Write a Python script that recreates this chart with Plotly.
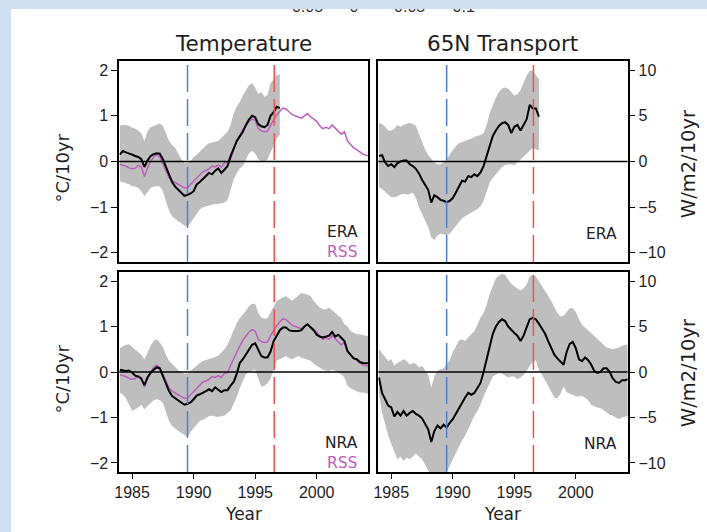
import numpy as np
import plotly.graph_objects as go

# ---------------------------------------------------------------------------
# Data: quarterly running trends, 1984.0 - 2004.25
# ---------------------------------------------------------------------------
YEARS = np.round(np.arange(1984.0, 2004.26, 0.25), 2)   # 82 quarterly steps
ERA_YEARS = YEARS[:53]                                  # ERA ends 1997.0

# Temperature trend (degC / 10yr)
ERA_TEMP = [0.15, 0.23, 0.20, 0.18, 0.15, 0.12, 0.10, 0.05,
            -0.12, 0.02, 0.12, 0.16, 0.18, 0.17, 0.05, -0.12,
            -0.30, -0.45, -0.55, -0.62, -0.70, -0.75, -0.73, -0.70,
            -0.65, -0.50, -0.45, -0.38, -0.30, -0.25, -0.28, -0.20,
            -0.15, -0.25, -0.18, -0.10, 0.10, 0.30, 0.45, 0.55,
            0.65, 0.80, 0.92, 1.00, 0.97, 0.82, 0.77, 0.75,
            0.80, 1.00, 1.08, 1.20, 1.17]
ERA_TEMP_HI = [0.78, 0.80, 0.80, 0.78, 0.74, 0.72, 0.68, 0.62,
               0.45, 0.66, 0.75, 0.78, 0.81, 0.83, 0.78, 0.63,
               0.45, 0.36, 0.30, 0.17, 0.05, -0.02, -0.03, 0.00,
               0.10, 0.15, 0.22, 0.27, 0.35, 0.40, 0.42, 0.43,
               0.45, 0.52, 0.58, 0.65, 0.80, 1.05, 1.20, 1.30,
               1.45, 1.55, 1.67, 1.72, 1.62, 1.48, 1.52, 1.42,
               1.45, 1.72, 1.80, 1.88, 1.91]
ERA_TEMP_LO = [-0.43, -0.45, -0.47, -0.50, -0.54, -0.55, -0.58, -0.65,
               -0.76, -0.66, -0.58, -0.55, -0.54, -0.55, -0.65, -0.87,
               -1.08, -1.20, -1.26, -1.31, -1.35, -1.40, -1.42, -1.35,
               -1.24, -1.13, -1.05, -1.00, -0.98, -0.97, -0.95, -0.93,
               -0.93, -0.91, -0.90, -0.85, -0.62, -0.40, -0.25, -0.15,
               -0.10, 0.05, 0.18, 0.23, 0.18, 0.05, 0.00, 0.00,
               0.05, 0.20, 0.37, 0.50, 0.59]

RSS_TEMP = [-0.06, -0.08, -0.10, -0.14, -0.16, -0.15, -0.08, -0.12,
            -0.33, -0.15, 0.00, 0.10, 0.15, 0.10, -0.05, -0.18,
            -0.35, -0.42, -0.47, -0.50, -0.54, -0.58, -0.57, -0.50,
            -0.43, -0.37, -0.30, -0.22, -0.20, -0.16, -0.10, -0.12,
            -0.08, -0.12, -0.03, -0.02, 0.15, 0.30, 0.45, 0.57,
            0.70, 0.80, 0.88, 0.93, 0.90, 0.72, 0.67, 0.65,
            0.66, 0.80, 0.92, 1.02, 1.10, 1.17, 1.15, 1.08,
            1.03, 1.00, 0.98, 0.95, 1.00, 1.05, 0.98, 0.92,
            0.88, 0.78, 0.72, 0.75, 0.72, 0.80, 0.72, 0.66,
            0.60, 0.65, 0.45, 0.37, 0.30, 0.26, 0.20, 0.16,
            0.14, 0.12]

NRA_TEMP = [0.05, 0.03, 0.02, 0.03, -0.01, -0.08, -0.10, -0.15,
            -0.29, -0.12, -0.02, 0.05, 0.10, 0.08, -0.08, -0.22,
            -0.42, -0.53, -0.58, -0.62, -0.66, -0.72, -0.70, -0.67,
            -0.60, -0.52, -0.49, -0.46, -0.42, -0.38, -0.42, -0.34,
            -0.40, -0.44, -0.40, -0.40, -0.30, -0.22, -0.04, 0.20,
            0.28, 0.38, 0.50, 0.60, 0.63, 0.50, 0.35, 0.32,
            0.32, 0.45, 0.68, 0.80, 0.92, 0.98, 0.98, 0.92,
            0.90, 0.90, 0.90, 0.92, 1.00, 1.05, 0.98, 0.92,
            0.82, 0.78, 0.76, 0.78, 0.80, 0.88, 0.78, 0.82,
            0.75, 0.68, 0.46, 0.38, 0.30, 0.28, 0.22, 0.20,
            0.19, 0.19]
NRA_TEMP_HI = [0.53, 0.57, 0.60, 0.61, 0.55, 0.50, 0.45, 0.38,
               0.28, 0.43, 0.57, 0.68, 0.72, 0.65, 0.55, 0.38,
               0.24, 0.18, 0.10, 0.04, 0.00, -0.04, -0.03, 0.03,
               0.08, 0.15, 0.20, 0.24, 0.26, 0.28, 0.30, 0.33,
               0.36, 0.42, 0.50, 0.60, 0.75, 0.92, 1.08, 1.18,
               1.26, 1.35, 1.45, 1.50, 1.50, 1.30, 1.20, 1.17,
               1.18, 1.30, 1.45, 1.56, 1.60, 1.63, 1.67, 1.62,
               1.57, 1.62, 1.68, 1.74, 1.72, 1.70, 1.67, 1.56,
               1.48, 1.42, 1.38, 1.38, 1.42, 1.36, 1.30, 1.25,
               1.18, 1.05, 1.00, 0.90, 0.86, 0.83, 0.83, 0.82,
               0.80, 0.78]
NRA_TEMP_LO = [-0.45, -0.50, -0.58, -0.70, -0.85, -0.82, -0.78, -0.72,
               -0.82, -0.75, -0.68, -0.62, -0.60, -0.62, -0.68, -0.90,
               -1.08, -1.19, -1.25, -1.30, -1.34, -1.38, -1.44, -1.32,
               -1.24, -1.15, -1.08, -1.05, -1.02, -0.97, -0.96, -0.98,
               -0.99, -0.97, -0.96, -0.90, -0.85, -0.70, -0.55, -0.35,
               -0.18, -0.05, 0.00, 0.03, 0.05, -0.15, -0.32, -0.30,
               -0.25, -0.15, 0.05, 0.25, 0.28, 0.32, 0.35, 0.30,
               0.28, 0.32, 0.35, 0.32, 0.30, 0.28, 0.25, 0.18,
               0.13, 0.08, 0.05, 0.03, 0.02, 0.05, 0.03, -0.02,
               -0.05, -0.12, -0.30, -0.36, -0.40, -0.43, -0.45, -0.45,
               -0.47, -0.48]

# 65N energy transport trend (W/m2 / 10yr)
ERA_TRANS = [0.6, 0.7, -0.1, -0.5, -0.3, -0.6, -0.2, 0.0,
             0.1, 0.1, -0.3, -0.5, -0.8, -1.3, -2.0, -2.5,
             -3.1, -4.5, -3.7, -3.9, -4.2, -4.3, -4.45, -4.3,
             -4.0, -3.4, -2.8, -2.1, -2.2, -1.6, -1.7, -1.4,
             -1.6, -1.2, -0.5, 0.6, 1.8, 2.8, 3.4, 3.9,
             4.2, 4.3, 4.0, 3.1, 3.8, 4.0, 3.4, 4.0,
             4.6, 6.2, 5.8, 5.8, 4.9]
ERA_TRANS_HI = [4.2, 4.1, 3.8, 3.4, 3.4, 3.6, 4.0, 3.8,
                4.0, 4.1, 4.25, 4.1, 3.9, 3.0, 2.1, 1.3,
                0.7, 0.3, -0.1, -0.3, -0.3, -0.1, 0.2, 0.8,
                1.3, 1.7, 2.0, 2.1, 2.25, 2.4, 2.5, 2.7,
                2.8, 2.9, 3.1, 4.0, 5.3, 6.2, 7.0, 7.6,
                8.0, 8.1, 8.0, 7.6, 7.2, 7.4, 7.8, 8.6,
                9.4, 9.9, 9.9, 9.5, 9.0]
ERA_TRANS_LO = [-2.8, -3.0, -3.3, -3.6, -3.9, -3.9, -3.8, -3.6,
                -3.55, -3.6, -3.55, -3.4, -4.0, -5.0, -5.8, -6.4,
                -7.2, -8.3, -8.6, -8.1, -7.9, -8.0, -8.1, -7.9,
                -7.5, -7.1, -6.6, -6.2, -6.0, -5.8, -5.6, -5.4,
                -5.2, -4.9, -4.3, -3.3, -2.3, -1.8, -1.4, -0.9,
                -0.6, -0.4, -0.3, -0.3, -0.4, -0.1, 0.2, 0.5,
                0.9, 1.2, 1.5, 1.3, 1.2]

NRA_TRANS = [-0.6, -2.3, -3.0, -3.7, -3.9, -4.9, -4.4, -4.8,
             -4.3, -4.8, -4.5, -4.3, -4.6, -4.8, -5.1, -5.7,
             -6.3, -7.7, -6.5, -5.9, -6.2, -5.8, -6.1, -5.6,
             -5.2, -4.6, -4.0, -3.3, -2.8, -2.3, -2.5, -2.3,
             -1.8, -1.2, 0.0, 1.3, 2.7, 4.2, 5.0, 5.5,
             5.8, 5.6, 5.0, 4.6, 4.3, 4.0, 3.4, 4.0,
             4.8, 5.8, 5.96, 5.8, 5.3, 4.8, 4.2, 3.4,
             2.6, 1.9, 1.5, 1.2, 0.8, 2.2, 3.1, 3.3,
             2.6, 1.4, 1.2, 1.6, 1.3, 0.8, 0.1, -0.1,
             0.0, 0.4, 0.4, 0.0, -0.7, -1.1, -1.2, -0.9,
             -0.9, -0.8]
NRA_TRANS_HI = [2.5, 2.1, 1.7, 1.2, 1.4, 0.7, 1.0, 1.2,
                1.4, 1.2, 0.8, 1.0, 0.9, 0.5, 0.7, 0.2,
                -0.3, -1.7, -0.5, 0.1, 0.3, 0.4, 0.8, 1.3,
                2.2, 2.9, 3.5, 3.6, 3.4, 3.8, 4.1, 4.5,
                5.2, 6.0, 6.5, 7.4, 8.6, 9.4, 10.3, 10.6,
                10.8, 10.7, 10.2, 9.7, 9.4, 9.2, 9.0, 9.2,
                9.6, 10.5, 10.7, 10.5, 10.0, 9.5, 8.9, 8.4,
                7.8, 7.2, 6.5, 6.1, 6.2, 6.6, 7.0, 7.0,
                6.6, 5.8, 5.2, 4.9, 4.6, 4.3, 4.0, 3.6,
                3.4, 3.1, 2.7, 2.6, 2.5, 2.6, 2.7, 2.9,
                3.0, 3.0]
NRA_TRANS_LO = [-2.3, -4.5, -5.7, -7.0, -7.9, -8.8, -9.6, -9.3,
                -9.8, -9.4, -9.6, -9.3, -9.0, -9.3, -9.6, -10.2,
                -10.8, -11.5, -11.8, -11.5, -11.3, -11.2, -11.0, -10.3,
                -9.6, -8.9, -8.1, -7.5, -7.0, -6.2, -5.5, -4.8,
                -4.3, -3.6, -2.7, -1.9, -1.2, -0.5, -0.3, -0.1,
                -0.2, -0.4, -0.6, -0.5, -0.5, -0.8, -0.6, -0.3,
                0.1, 0.7, 1.1, 1.3, 0.2, -0.3, -0.9, -1.6,
                -2.2, -2.8, -2.9, -2.4, -1.6, -2.2, -2.4, -2.5,
                -2.7, -2.7, -2.6, -2.9, -3.1, -3.6, -3.8, -3.9,
                -4.0, -4.2, -4.5, -4.7, -4.8, -5.0, -5.2, -5.0,
                -4.9, -4.8]

# Marker years (dashed verticals)
EVENT_YEARS = [1989.5, 1996.55]
EVENT_COLORS = ["#4f7fd4", "#ef5050"]

X_TICKS = [1985, 1990, 1995, 2000]
TEMP_TICKS = [-2, -1, 0, 1, 2]
TRANS_TICKS = [-10, -5, 0, 5, 10]
COLORBAR_LABELS = ["\u22120.05", "0", "0.05", "0.1"]
COLORBAR_POS = [300, 351.5, 407.5, 462]

# ---------------------------------------------------------------------------
W, H = 707, 532
GRAY = "#bebebe"
MAGENTA = "#bf5cbf"
INK = "#1e1e1e"
TICK_FONT = dict(family="Liberation Sans, Arial, sans-serif", size=16, color=INK)
LABEL_FONT = "DejaVu Sans, sans-serif"


def px_x(p):
    return p / W


def px_y(p):
    return 1 - p / H


LEFT = [px_x(115), px_x(366)]
RIGHT = [px_x(376), px_x(627)]
TOP = [px_y(262), px_y(61)]
BOTTOM = [px_y(472), px_y(272)]
XRANGE = [1983.95, 2004.2]

fig = go.Figure()

panels = [
    # (xaxis id, yaxis id, years, line, hi, lo, with RSS)
    ("x", "y", ERA_YEARS, ERA_TEMP, ERA_TEMP_HI, ERA_TEMP_LO, True),
    ("x2", "y2", ERA_YEARS, ERA_TRANS, ERA_TRANS_HI, ERA_TRANS_LO, False),
    ("x3", "y3", YEARS, NRA_TEMP, NRA_TEMP_HI, NRA_TEMP_LO, True),
    ("x4", "y4", YEARS, NRA_TRANS, NRA_TRANS_HI, NRA_TRANS_LO, False),
]

for xa, ya, yrs, line, hi, lo, with_rss in panels:
    fig.add_trace(go.Scatter(x=yrs, y=lo, xaxis=xa, yaxis=ya, mode="lines",
                             line=dict(width=0, color=GRAY), hoverinfo="skip",
                             showlegend=False))
    fig.add_trace(go.Scatter(x=yrs, y=hi, xaxis=xa, yaxis=ya, mode="lines",
                             line=dict(width=0, color=GRAY), fill="tonexty",
                             fillcolor=GRAY, hoverinfo="skip", showlegend=False))
    if with_rss:
        fig.add_trace(go.Scatter(x=YEARS, y=RSS_TEMP, xaxis=xa, yaxis=ya,
                                 mode="lines", line=dict(width=1.5, color=MAGENTA),
                                 showlegend=False))
    fig.add_trace(go.Scatter(x=yrs, y=line, xaxis=xa, yaxis=ya, mode="lines",
                             line=dict(width=2, color="black"), showlegend=False))

    # zero line and event markers
    fig.add_shape(type="line", xref=f"{xa} domain", yref=ya, x0=0, x1=1, y0=0, y1=0,
                  line=dict(color="black", width=1.5), layer="above")
    for yr, col in zip(EVENT_YEARS, EVENT_COLORS):
        fig.add_shape(type="line", xref=xa, yref=f"{ya} domain", x0=yr, x1=yr,
                      y0=0, y1=1, line=dict(color=col, width=1.5, dash="27px,7px"),
                      layer="above")

# partially hidden colour-bar labels at the very top, clipped by a thin axis
fig.add_trace(go.Scatter(x=COLORBAR_POS, y=[7.7] * len(COLORBAR_POS),
                         xaxis="x5", yaxis="y5", mode="text",
                         text=COLORBAR_LABELS, textposition="middle center",
                         textfont=dict(family="Liberation Sans, Arial", size=16,
                                       color="#333"),
                         cliponaxis=True, hoverinfo="skip", showlegend=False))

axis_common = dict(showgrid=False, zeroline=False, showline=True, mirror=True,
                   linecolor="black", linewidth=1.5, tickcolor="black",
                   tickfont=TICK_FONT)

fig.update_layout(
    width=W, height=H, margin=dict(l=0, r=0, t=0, b=0),
    paper_bgcolor="#cddff1", plot_bgcolor="white",
    showlegend=False,
    xaxis=dict(domain=LEFT, anchor="y", range=XRANGE, showticklabels=False,
               ticks="", **axis_common),
    yaxis=dict(domain=TOP, anchor="x", range=[-2.2, 2.2], tickvals=TEMP_TICKS,
               ticks="outside", ticklen=6, tickwidth=1.2, **axis_common),
    xaxis2=dict(domain=RIGHT, anchor="y2", range=XRANGE, showticklabels=False,
                ticks="", **axis_common),
    yaxis2=dict(domain=TOP, anchor="x2", side="right", range=[-11, 11],
                tickvals=TRANS_TICKS, ticks="outside", ticklen=6, tickwidth=1.2,
                **axis_common),
    xaxis3=dict(domain=LEFT, anchor="y3", range=XRANGE, tickvals=X_TICKS,
                ticks="outside", ticklen=5, tickwidth=1.2, **axis_common),
    yaxis3=dict(domain=BOTTOM, anchor="x3", range=[-2.2, 2.2], tickvals=TEMP_TICKS,
                ticks="outside", ticklen=6, tickwidth=1.2, **axis_common),
    xaxis4=dict(domain=RIGHT, anchor="y4", range=XRANGE, tickvals=X_TICKS,
                ticks="outside", ticklen=5, tickwidth=1.2, **axis_common),
    yaxis4=dict(domain=BOTTOM, anchor="x4", side="right", range=[-11, 11],
                tickvals=TRANS_TICKS, ticks="outside", ticklen=6, tickwidth=1.2,
                **axis_common),
    xaxis5=dict(domain=[px_x(200), px_x(520)], anchor="y5", range=[200, 520],
                visible=False),
    yaxis5=dict(domain=[px_y(30), px_y(9)], anchor="x5", range=[30, 9],
                visible=False),
)

# white sheet behind the figure
fig.add_shape(type="rect", xref="paper", yref="paper", x0=px_x(6), x1=1,
              y0=0, y1=px_y(9), fillcolor="white", line=dict(width=0),
              layer="below")


def label(text, x, y, size, color=INK, angle=0, xanchor="center", align="center"):
    fig.add_annotation(text=text, x=px_x(x), y=px_y(y), xref="paper", yref="paper",
                       showarrow=False, textangle=angle, xanchor=xanchor,
                       yanchor="middle", align=align,
                       font=dict(family=LABEL_FONT, size=size, color=color))


def legend_pair(name, x, y_mid):
    text = f"{name}<br><span style='color:{MAGENTA}'>RSS</span>"
    label(text, x, y_mid, 15.5, xanchor="right", align="right")


label("Temperature", 240.5, 44, 21.5)
label("65N Transport", 501.5, 44, 21.5)
label("\u00b0C/10yr", 57, 168, 18, angle=-90)
label("\u00b0C/10yr", 57, 379, 18, angle=-90)
label("W/m2/10yr", 688, 164, 19.5, angle=-90)
label("W/m2/10yr", 688, 373, 19.5, angle=-90)
label("Year", 240.5, 514, 17)
label("Year", 501.5, 514, 17)
legend_pair("ERA", 358, 242)
legend_pair("NRA", 358, 452.5)
label("ERA", 618, 233.5, 15.5, xanchor="right")
label("NRA", 618, 444, 15.5, xanchor="right")

fig.write_html("out.html")
